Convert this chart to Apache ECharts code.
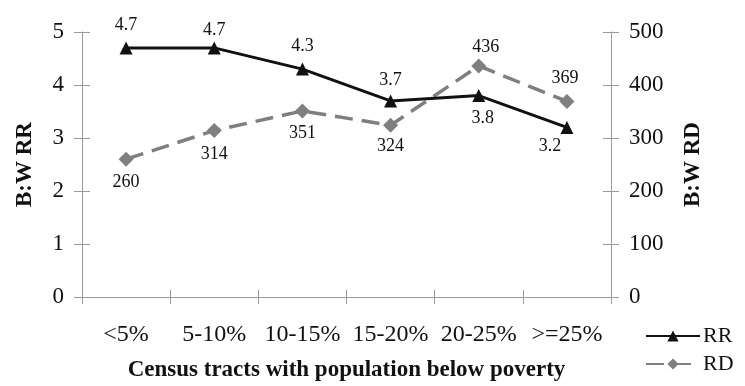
<!DOCTYPE html>
<html><head><meta charset="utf-8">
<script src="https://cdn.jsdelivr.net/npm/echarts@6/dist/echarts.min.js"></script>
<style>html,body{margin:0;padding:0;background:#fff}#c{width:745px;height:386px}</style>
</head><body><div id="c"></div>
<script>
var categories = ['<5%', '5-10%', '10-15%', '15-20%', '20-25%', '>=25%'];
var rrValues = [4.7, 4.7, 4.3, 3.7, 3.8, 3.2];
var rdValues = [260, 314, 351, 324, 436, 369];
var rrTicks = {min: 0, max: 5, interval: 1};
var rdTicks = {min: 0, max: 500, interval: 100};

// label placement (style only)
var rrLabelPos = [['top',[0,0]],['top',[0,5]],['top',[0,0]],['top',[0,2]],['bottom',[4,0]],['bottom',[-17,-4]]];
var rdLabelPos = [['bottom',[0,0]],['bottom',[0,0]],['bottom',[0,-1]],['bottom',[0,-3]],['top',[7,5]],['top',[-2,0]]];

var FONT = '"Liberation Serif", "Times New Roman", serif';
var axisColor = '#9a9a9a';

function buildData(vals, pos) {
  return vals.map(function (v, i) {
    return {value: v, label: {position: pos[i][0], offset: pos[i][1]}};
  });
}

var chart = echarts.init(document.getElementById('c'));
var baseX = {
  type: 'category', data: categories, gridIndex: 0, position: 'bottom',
  boundaryGap: true
};
chart.setOption({
  backgroundColor: '#fff',
  animation: false,
  textStyle: {fontFamily: FONT},
  grid: {left: 82, right: 134, top: 32, bottom: 89, containLabel: false, outerBoundsMode: 'none'},
  legend: {
    orient: 'vertical', left: 645, top: 325, itemGap: 6,
    itemWidth: 54, itemHeight: 14, padding: 0,
    textStyle: {fontFamily: FONT, fontSize: 22, color: '#111', padding: [0,0,0,-2]},
    data: ['RR', 'RD']
  },
  xAxis: [
    Object.assign({}, baseX, {
      axisLine: {lineStyle: {color: axisColor, width: 1}},
      axisTick: {show: true, inside: false, length: 7, lineStyle: {color: axisColor}},
      axisLabel: {fontFamily: FONT, fontSize: 24, color: '#111', margin: 26, interval: 0},
      name: 'Census tracts with population below poverty',
      nameLocation: 'middle', nameGap: 62,
      nameTextStyle: {fontFamily: FONT, fontSize: 23, fontWeight: 'bold', color: '#111'}
    }),
    Object.assign({}, baseX, {
      axisLine: {show: false},
      axisTick: {show: true, inside: true, length: 7, lineStyle: {color: axisColor}},
      axisLabel: {show: false}
    })
  ],
  yAxis: [
    {
      type: 'value', position: 'left', min: rrTicks.min, max: rrTicks.max, interval: rrTicks.interval,
      splitLine: {show: false},
      axisLine: {show: true, lineStyle: {color: axisColor}},
      axisTick: {show: true, length: 8, lineStyle: {color: axisColor}},
      axisLabel: {fontFamily: FONT, fontSize: 23, color: '#111', margin: 18},
      name: 'B:W RR', nameLocation: 'middle', nameRotate: 90, nameGap: 45,
      nameTextStyle: {fontFamily: FONT, fontSize: 23, fontWeight: 'bold', color: '#111'}
    },
    {
      type: 'value', position: 'right', min: rdTicks.min, max: rdTicks.max, interval: rdTicks.interval,
      splitLine: {show: false},
      axisLine: {show: true, lineStyle: {color: axisColor}},
      axisTick: {show: true, length: 8, lineStyle: {color: axisColor}},
      axisLabel: {fontFamily: FONT, fontSize: 23, color: '#111', margin: 18},
      name: 'B:W RD', nameLocation: 'middle', nameRotate: 90, nameGap: 71,
      nameTextStyle: {fontFamily: FONT, fontSize: 23, fontWeight: 'bold', color: '#111'}
    },
    {
      type: 'value', position: 'left', min: rrTicks.min, max: rrTicks.max, interval: rrTicks.interval,
      splitLine: {show: false}, axisLine: {show: false}, axisLabel: {show: false},
      axisTick: {show: true, inside: true, length: 8, lineStyle: {color: axisColor}}
    },
    {
      type: 'value', position: 'right', min: rdTicks.min, max: rdTicks.max, interval: rdTicks.interval,
      splitLine: {show: false}, axisLine: {show: false}, axisLabel: {show: false},
      axisTick: {show: true, inside: true, length: 8, lineStyle: {color: axisColor}}
    }
  ],
  series: [
    {
      name: 'RR', type: 'line', xAxisIndex: 0, yAxisIndex: 0,
      data: buildData(rrValues, rrLabelPos),
      symbol: 'triangle', symbolSize: 13,
      itemStyle: {color: '#111'},
      lineStyle: {color: '#111', width: 3},
      label: {show: true, fontFamily: FONT, fontSize: 18, color: '#111', distance: 7},
      z: 3
    },
    {
      name: 'RD', type: 'line', xAxisIndex: 0, yAxisIndex: 1,
      data: buildData(rdValues, rdLabelPos),
      symbol: 'diamond', symbolSize: 15,
      itemStyle: {color: '#7f7f7f'},
      lineStyle: {color: '#7f7f7f', width: 3.5, type: [18, 9]},
      label: {show: true, fontFamily: FONT, fontSize: 18, color: '#111', distance: 7},
      z: 2
    }
  ]
});
</script>
</body></html>
